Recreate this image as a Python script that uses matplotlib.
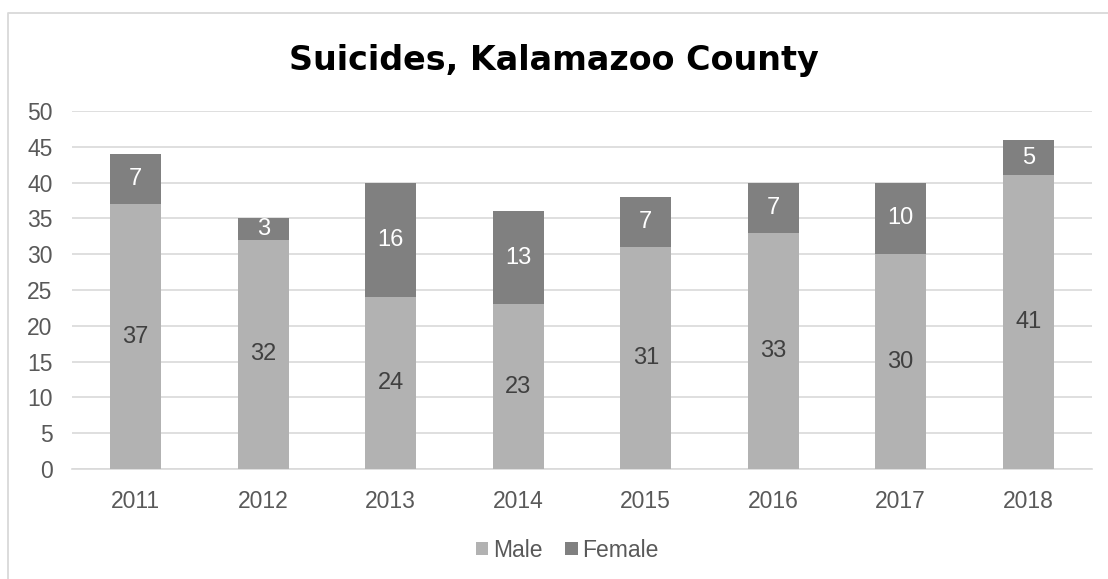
import numpy as np
import matplotlib
matplotlib.use("Agg")
from matplotlib import pyplot as plt
from matplotlib.lines import Line2D

years = ['2011', '2012', '2013', '2014', '2015', '2016', '2017', '2018']
male = [37, 32, 24, 23, 31, 33, 30, 41]
female = [7, 3, 16, 13, 7, 7, 10, 5]

plt.rcParams['font.family'] = ['Liberation Sans', 'DejaVu Sans']

W, H = 1108, 579
fig = plt.figure(figsize=(W / 100, H / 100), dpi=100)
ax = fig.add_axes([0.065, 0.19, 0.9205, 0.6183])

# chart border (only left and top edges fall inside the picture)
bx, by = 7.5 / W, 1 - 12.5 / H
fig.lines.append(Line2D([bx, bx, 1.01], [-0.01, by, by], transform=fig.transFigure,
                        color='#D9D9D9', linewidth=1.3))

x = np.arange(len(years))
b1 = ax.bar(x, male, width=0.4, color='#B2B2B2', label='Male', zorder=3)
b2 = ax.bar(x, female, width=0.4, bottom=male, color='#808080', label='Female', zorder=3)

for i in range(len(years)):
    ax.text(x[i], male[i] / 2, str(male[i]), ha='center', va='center',
            fontsize=17, color='#404040', zorder=4)
    ax.text(x[i], male[i] + female[i] / 2, str(female[i]), ha='center', va='center',
            fontsize=17, color='white', zorder=4)

ax.set_xlim(-0.5, len(years) - 0.5)
ax.set_ylim(0, 50)
ax.set_yticks(range(0, 51, 5))
ax.set_xticks(x)
ax.set_xticklabels(years)
ax.yaxis.grid(True, color='#D9D9D9', linewidth=1.2, zorder=0)
for s in ['top', 'right', 'left']:
    ax.spines[s].set_visible(False)
ax.spines['bottom'].set_color('#D9D9D9')
ax.spines['bottom'].set_linewidth(1.2)
ax.tick_params(axis='both', length=0, labelsize=16.5, colors='#595959')
ax.tick_params(axis='x', pad=15)
ax.tick_params(axis='y', pad=14)

fig.text(0.5, 0.895, 'Suicides, Kalamazoo County', ha='center', va='center',
         fontsize=24, fontweight='bold', color='black', family=['DejaVu Sans'])

fig.legend(handles=[b1, b2], loc='center', bbox_to_anchor=(0.512, 0.05), ncol=2,
           frameon=False, fontsize=16.5, handlelength=0.55, handleheight=0.55,
           handletextpad=0.2, columnspacing=1.0, labelcolor='#595959')

fig.savefig('out.png', dpi=100)
